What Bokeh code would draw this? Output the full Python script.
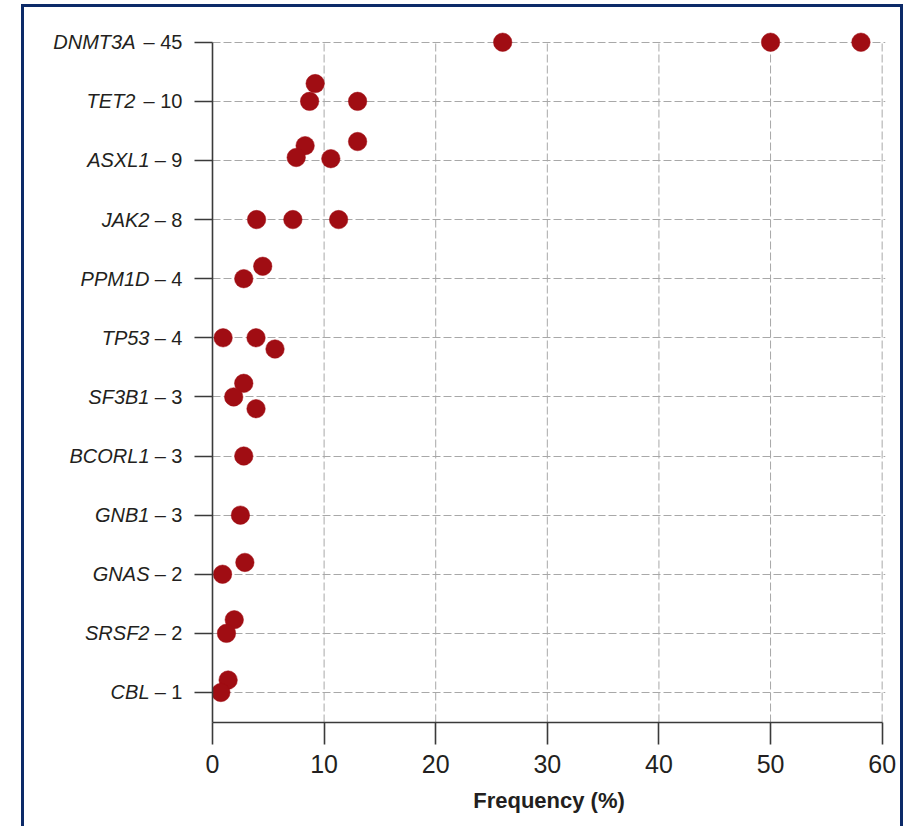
from bokeh.plotting import figure
from bokeh.models import ColumnDataSource, Range1d, FixedTicker, LinearAxis
from bokeh.embed import file_html
from bokeh.resources import INLINE

# ---- data ----
genes = ["DNMT3A", "TET2", "ASXL1", "JAK2", "PPM1D", "TP53",
         "SF3B1", "BCORL1", "GNB1", "GNAS", "SRSF2", "CBL"]
counts = [45, 10, 9, 8, 4, 4, 3, 3, 3, 2, 2, 1]

point_gene = ["DNMT3A", "DNMT3A", "DNMT3A",
              "TET2", "TET2", "TET2",
              "ASXL1", "ASXL1", "ASXL1", "ASXL1",
              "JAK2", "JAK2", "JAK2",
              "PPM1D", "PPM1D",
              "TP53", "TP53", "TP53",
              "SF3B1", "SF3B1", "SF3B1",
              "BCORL1",
              "GNB1",
              "GNAS", "GNAS",
              "SRSF2", "SRSF2",
              "CBL", "CBL"]
point_freq = [26.0, 50.0, 58.1,
              9.2, 8.7, 13.0,
              8.3, 7.5, 10.6, 13.0,
              3.95, 7.2, 11.3,
              4.5, 2.8,
              0.95, 3.9, 5.6,
              2.8, 1.9, 3.9,
              2.8,
              2.5,
              2.9, 0.9,
              1.95, 1.25,
              1.4, 0.75]
# small vertical displacement of overlapping dots (in category rows)
point_jitter = [0.0, 0.0, 0.0,
                0.30, 0.0, 0.0,
                0.25, 0.05, 0.03, 0.32,
                0.0, 0.0, 0.0,
                0.21, 0.0,
                0.0, 0.0, -0.19,
                0.23, 0.0, -0.20,
                0.0,
                0.0,
                0.20, 0.0,
                0.23, 0.0,
                0.21, 0.0]
x_ticks = [0, 10, 20, 30, 40, 50, 60]

# ---- derived positions ----
n = len(genes)
row = {g: n - i for i, g in enumerate(genes)}       # DNMT3A on top
row_pos = [row[g] for g in genes]
pt_y = [row[g] + j for g, j in zip(point_gene, point_jitter)]

FONT = "Liberation Sans, Arial, sans-serif"
TEXT = "#231f20"
AXIS = "#3a3a3a"
GRID = "#a8a8a8"
DOT = "#a00d13"
NAVY = "#0c2a68"

y_lo = 0.492
p = figure(width=882, height=822, output_backend="svg", toolbar_location=None,
           x_range=Range1d(0, 60.3), y_range=Range1d(y_lo, n + 0.3),
           min_border_left=188, min_border_right=21,
           min_border_top=17, min_border_bottom=107,
           styles={"margin-left": "21px", "margin-top": "4px",
                   "border-left": "3px solid " + NAVY,
                   "border-right": "3px solid " + NAVY,
                   "border-top": "3px solid " + NAVY})
p.outline_line_color = None
p.background_fill_color = "white"
p.border_fill_color = "white"

# grids
p.xgrid.visible = False
p.ygrid.ticker = FixedTicker(ticks=row_pos)
p.ygrid.grid_line_color = GRID
p.ygrid.grid_line_dash = "8 3"
p.ygrid.grid_line_width = 1

vsrc = ColumnDataSource(dict(x=x_ticks[1:], y0=[y_lo] * (len(x_ticks) - 1),
                             y1=[max(row_pos)] * (len(x_ticks) - 1)))
p.segment(x0="x", x1="x", y0="y0", y1="y1", source=vsrc,
          line_color=GRID, line_dash="8 3", line_width=1)

# points
src = ColumnDataSource(dict(x=point_freq, y=pt_y))
p.scatter("x", "y", source=src, size=18.5, fill_color=DOT, line_color=DOT,
          line_width=0.5)

# x axis
xa = p.xaxis[0]
xa.ticker = FixedTicker(ticks=x_ticks)
xa.bounds = (0, 60)
xa.axis_line_color = AXIS
xa.axis_line_width = 1.6
xa.major_tick_line_color = AXIS
xa.major_tick_line_width = 1.6
xa.major_tick_out = 22
xa.major_tick_in = 0
xa.minor_tick_line_color = None
xa.major_label_text_font = FONT
xa.major_label_text_font_size = "25px"
xa.major_label_text_color = TEXT
xa.major_label_standoff = 10
xa.axis_label = "Frequency (%)"
xa.axis_label_text_font = FONT
xa.axis_label_text_font_style = "bold"
xa.axis_label_text_font_size = "22px"
xa.axis_label_text_color = TEXT
xa.axis_label_standoff = 12

# y axis (inner): the "– N" part of each label
ya = p.yaxis[0]
ya.ticker = FixedTicker(ticks=row_pos)
ya.bounds = (y_lo, n)
ya.major_label_overrides = {row[g]: "\u2013 %d" % c for g, c in zip(genes, counts)}
ya.axis_line_color = AXIS
ya.axis_line_width = 1.6
ya.major_tick_line_color = AXIS
ya.major_tick_line_width = 1.6
ya.major_tick_out = 18
ya.major_tick_in = 0
ya.minor_tick_line_color = None
ya.major_label_text_font = FONT
ya.major_label_text_font_size = "20px"
ya.major_label_text_color = TEXT
ya.major_label_standoff = 12


def gene_axis(ndigits, standoff):
    """Italic gene names for rows whose count has `ndigits` digits."""
    ax = LinearAxis(ticker=FixedTicker(ticks=row_pos))
    ax.major_label_overrides = {row[g]: (g if len(str(c)) == ndigits else "")
                                for g, c in zip(genes, counts)}
    ax.axis_line_color = None
    ax.major_tick_line_color = None
    ax.minor_tick_line_color = None
    ax.major_tick_out = 0
    ax.major_tick_in = 0
    ax.major_label_text_font = FONT
    ax.major_label_text_font_style = "italic"
    ax.major_label_text_font_size = "20px"
    ax.major_label_text_color = TEXT
    ax.major_label_standoff = standoff
    p.add_layout(ax, "left")


gene_axis(1, -9)    # sits just left of "– N"
gene_axis(2, -69)   # pulled back over the previous axis for the 2-digit rows

open("out.html", "w").write(file_html(p, INLINE))
